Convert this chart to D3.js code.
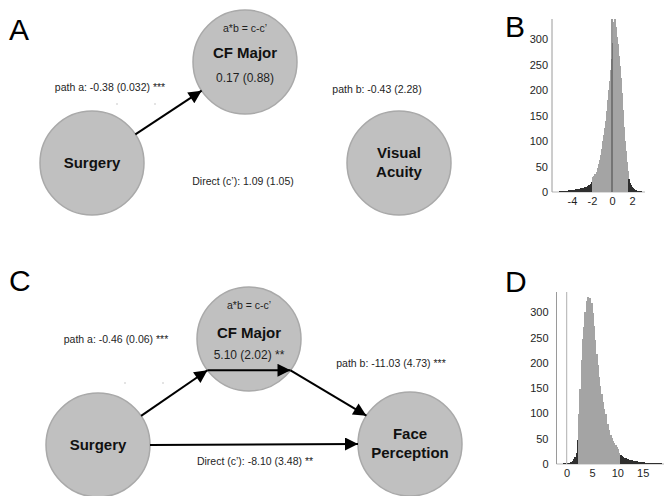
<!DOCTYPE html>
<html lang="en">
<head>
    <meta charset="UTF-8">
    <title>Mediation models</title>
    <script src="https://d3js.org/d3.v7.min.js"></script>
    <style>
        body { margin: 0; background: #fff; font-family: "Liberation Sans", Arial, sans-serif; }
        .node { fill: #c0c0c0; stroke: #a9a9a9; stroke-width: 1.5px; }
        .edge { stroke: #000; stroke-width: 2px; fill: none; }
        .small { font-size: 10.5px; fill: #1e1e1e; }
        .name { font-size: 15px; font-weight: bold; fill: #111; }
        .letter { font-size: 30px; fill: #000; }
        .tick text { font-size: 11px; fill: #1e1e1e; }
    </style>
</head>
<body>
<div id="chart"></div>
<script>
    // ---- data ----
    const panelLetters = ["A", "B", "C", "D"];

    // model A: Surgery -> CF Major -> Visual Acuity
    const namesA = ["Surgery", "CF Major", "Visual|Acuity"];
    const indirectA = ["a*b = c-c\u2019", "0.17 (0.88)"];
    const pathsA = ["path a: -0.38 (0.032) ***", "path b: -0.43 (2.28)", "Direct (c\u2019): 1.09 (1.05)"];

    // model C: Surgery -> CF Major -> Face Perception
    const namesC = ["Surgery", "CF Major", "Face|Perception"];
    const indirectC = ["a*b = c-c\u2019", "5.10 (2.02) **"];
    const pathsC = ["path a: -0.46 (0.06) ***", "path b: -11.03 (4.73) ***", "Direct (c\u2019): -8.10 (3.48) **"];

    // bootstrap histogram B (indirect effect, bins of 0.1 starting at -5.5)
    const binStartB = -5.5, binWidthB = 0.1;
    const countsB = [
        0, 0, 1, 0, 1, 1, 0, 2, 1, 2,
        2, 3, 2, 3, 3, 4, 3, 4, 5, 4,
        5, 6, 5, 7, 6, 8, 7, 9, 10, 9,
        11, 13, 12, 16, 19, 30, 32, 35, 33, 40,
        48, 55, 62, 72, 85, 100, 112, 125, 140, 160,
        180, 200, 218, 240, 262, 292, 335, 340, 325, 305,
        290, 268, 248, 225, 195, 162, 128, 100, 80, 58,
        42, 26, 18, 13, 9, 7, 5, 4, 3, 2,
        2, 1, 1, 1, 0
    ];
    const ciB = [-2.0, 1.55];
    const xTicksB = [-4, -2, 0, 2];
    const yTicksB = [0, 50, 100, 150, 200, 250, 300];

    // bootstrap histogram D (indirect effect, bins of 0.25 starting at -1)
    const binStartD = -1, binWidthD = 0.25;
    const countsD = [
        0, 1, 0, 1, 1, 2, 2, 4, 6, 9,
        14, 22, 48, 98, 148, 205, 248, 270, 300, 322,
        330, 310, 328, 318, 298, 272, 245, 218, 195, 172,
        155, 138, 122, 108, 98, 75, 80, 68, 58, 52,
        45, 42, 38, 34, 30, 22, 18, 15, 14, 12,
        11, 10, 9, 8, 8, 7, 6, 6, 5, 5,
        4, 4, 3, 3, 3, 2, 2, 2, 2, 1,
        2, 1, 1, 1, 1, 1, 1, 0, 1, 0
    ];
    const ciD = [2.25, 10.3];
    const xTicksD = [0, 5, 10, 15];
    const yTicksD = [0, 50, 100, 150, 200, 250, 300];

    // ---- drawing ----
    const width = 664, height = 496;
    const svg = d3.select("#chart").append("svg")
        .attr("width", width)
        .attr("height", height);

    svg.append("defs").append("marker")
        .attr("id", "head")
        .attr("viewBox", "0 0 10 10")
        .attr("refX", 10).attr("refY", 5)
        .attr("markerWidth", 9).attr("markerHeight", 6.5)
        .attr("markerUnits", "strokeWidth")
        .attr("orient", "auto")
        .append("path")
        .attr("d", "M0,0L10,5L0,10z")
        .attr("fill", "#000");

    // panel letters
    const letterPos = [[9, 40], [505, 37], [9, 291], [505, 292]];
    svg.selectAll(".letter")
        .data(panelLetters)
        .enter().append("text")
        .attr("class", "letter")
        .attr("x", (d, i) => letterPos[i][0])
        .attr("y", (d, i) => letterPos[i][1])
        .text(d => d);

    const R = 52;

    function pointOn(c, deg) {
        const a = deg * Math.PI / 180;
        return [c[0] + R * Math.cos(a), c[1] + R * Math.sin(a)];
    }

    // one mediation diagram
    function drawModel(names, indirect, paths, lay) {
        const g = svg.append("g");

        g.selectAll(".node")
            .data(names)
            .enter().append("circle")
            .attr("class", "node")
            .attr("cx", (d, i) => lay.centers[i][0])
            .attr("cy", (d, i) => lay.centers[i][1])
            .attr("r", R);

        lay.edges.forEach(e => {
            const p0 = pointOn(lay.centers[e[0]], e[1]);
            const p1 = pointOn(lay.centers[e[2]], e[3]);
            g.append("line")
                .attr("class", "edge")
                .attr("x1", p0[0]).attr("y1", p0[1])
                .attr("x2", p1[0]).attr("y2", p1[1])
                .attr("marker-end", e[4] ? "url(#head)" : null);
        });

        // node names (| splits lines)
        names.forEach((n, i) => {
            const lines = n.split("|");
            const c = lay.centers[i];
            const offs = lines.length === 1 ? (i === 1 ? [lay.mediatorDy] : [5]) : [-5, 14];
            lines.forEach((t, k) => {
                g.append("text")
                    .attr("class", "name")
                    .attr("text-anchor", "middle")
                    .attr("x", c[0])
                    .attr("y", c[1] + offs[k])
                    .text(t);
            });
        });

        // indirect effect text inside mediator
        const m = lay.centers[1];
        g.append("text").attr("class", "small").attr("text-anchor", "middle")
            .attr("x", m[0]).attr("y", m[1] - 30).text(indirect[0]);
        g.append("text").attr("class", "small").attr("text-anchor", "middle")
            .style("font-size", "12px")
            .attr("x", m[0]).attr("y", m[1] + 20).text(indirect[1]);

        // path labels
        g.selectAll(".plabel")
            .data(paths)
            .enter().append("text")
            .attr("class", "small")
            .attr("text-anchor", "middle")
            .attr("x", (d, i) => lay.labels[i][0])
            .attr("y", (d, i) => lay.labels[i][1])
            .text(d => d);

        // faint specks under path a
        g.selectAll(".speck")
            .data(lay.specks)
            .enter().append("circle")
            .attr("cx", d => d[0]).attr("cy", d => d[1])
            .attr("r", 0.7).attr("fill", "#b5b5b5");
    }

    drawModel(namesA, indirectA, pathsA, {
        centers: [[92, 163], [245, 62], [399, 163]],
        mediatorDy: -4,
        edges: [[0, -33.5, 1, 146.5, true]],
        labels: [[110, 91], [377, 93], [243, 185]],
        specks: [[117, 104], [155, 104]]
    });

    drawModel(namesC, indirectC, pathsC, {
        centers: [[98, 445], [249, 339], [410, 444]],
        mediatorDy: -1,
        edges: [
            [0, -34, 1, 143, true],
            [1, 143, 1, 37, true],
            [1, 37, 2, 213, true],
            [0, 0, 2, 180, true]
        ],
        labels: [[116, 343], [391, 367], [255, 465]],
        specks: [[125, 383], [163, 383]]
    });

    // bootstrap histogram
    function drawHist(counts, start, step, ci, xTicks, yTicks, box) {
        const g = svg.append("g");
        const x = d3.scaleLinear().domain(box.xDomain).range([box.left, box.right]);
        const y = d3.scaleLinear().domain([0, 340]).range([box.bottom, box.top]);

        const bins = counts.map((c, i) => ({ x0: start + i * step, x1: start + (i + 1) * step, c: c }));

        g.append("line")
            .attr("x1", box.left).attr("x2", box.right + 3)
            .attr("y1", y(0)).attr("y2", y(0))
            .attr("stroke", "#cfcfcf").attr("stroke-width", 1.5);

        g.selectAll("rect")
            .data(bins.filter(b => b.c > 0))
            .enter().append("rect")
            .attr("x", d => x(d.x0))
            .attr("width", d => x(d.x1) - x(d.x0) + 0.6)
            .attr("y", d => y(d.c))
            .attr("height", d => y(0) - y(d.c))
            .attr("shape-rendering", "crispEdges")
            .attr("fill", d => (d.x0 < ci[0] || d.x0 >= ci[1]) ? "#2f2f2f" : "#a4a4a4");

        g.append("line")
            .attr("x1", x(0)).attr("x2", x(0))
            .attr("y1", y(0)).attr("y2", box.top)
            .attr("stroke", box.zeroColor).attr("stroke-width", 1.2);

        g.append("line")
            .attr("x1", box.left).attr("x2", box.left)
            .attr("y1", y(0)).attr("y2", box.top)
            .attr("stroke", "#9a9a9a").attr("stroke-width", 1);

        g.append("g")
            .attr("transform", `translate(${box.left},0)`)
            .call(d3.axisLeft(y).tickValues(yTicks).tickSize(0).tickPadding(box.pad))
            .call(a => a.select(".domain").remove());

        g.append("g")
            .attr("transform", `translate(0,${y(0)})`)
            .call(d3.axisBottom(x).tickValues(xTicks).tickSize(0).tickPadding(5).tickFormat(d => String(d)))
            .call(a => a.select(".domain").remove());

        g.selectAll(".tick text").attr("font-family", "Liberation Sans, Arial, sans-serif");
    }

    drawHist(countsB, binStartB, binWidthB, ciB, xTicksB, yTicksB,
        { xDomain: [-6, 3], left: 552, right: 642, top: 19, bottom: 192, pad: 4, zeroColor: "#555" });

    drawHist(countsD, binStartD, binWidthD, ciD, xTicksD, yTicksD,
        { xDomain: [-2, 19], left: 556.5, right: 663, top: 292, bottom: 464, pad: 8, zeroColor: "#bdbdbd" });
</script>
</body>
</html>
